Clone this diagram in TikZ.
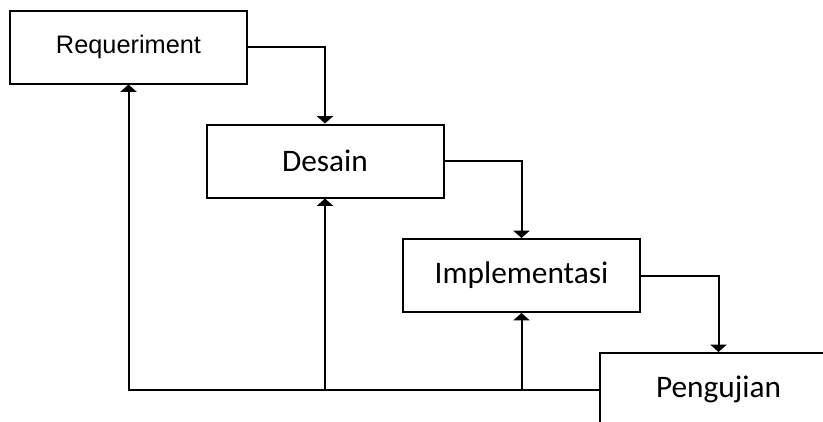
\documentclass[tikz,border=0pt]{standalone}
\usepackage{fontspec}
\setmainfont{Carlito}
\newfontfamily\arialfont{Liberation Sans}
\usetikzlibrary{calc, positioning, arrows.meta}

\begin{document}
\begin{tikzpicture}[
					x=0.75pt, y=-0.75pt,
					stagebox/.style={
						draw,
						rectangle,
						align=center,
						fill=white,
						line width=1.5pt,
						minimum width=177.75pt,
						minimum height=54.75pt,
						font=\fontsize{23.5}{28}\selectfont
					},
					flow/.style={
						-{Triangle[width=12pt, length=5.5pt]},
						line width=1.5pt
					}
					]
					
					% Page frame (Pengujian runs off the edge)
					\clip (0, 0) rectangle (823, 421);
					\fill[white] (0, 0) rectangle (823, 421);
					
					% Main boxes
					\node (req) [stagebox, font=\arialfont\fontsize{19}{23}\selectfont] at (128.5, 47) {Requeriment};
					\node (des) [stagebox] at (325, 161) {Desain};
					\node (imp) [stagebox] at (521.5, 275.5) {Implementasi};
					\node (uji) [stagebox] at (718.5, 389.5) {Pengujian};
					
					% Forward arrows
					\draw [flow] (req.east) -| (des.north);
					\draw [flow] (des.east) -| (imp.north);
					\draw [flow] (imp.east) -| (uji.north);
					
					% Feedback arrows
					\draw [flow] (uji.west) -| (req.south);
					\draw [flow] (des.south |- uji.west) -- (des.south);
					\draw [flow] (imp.south |- uji.west) -- (imp.south);
					
				\end{tikzpicture}
\end{document}
